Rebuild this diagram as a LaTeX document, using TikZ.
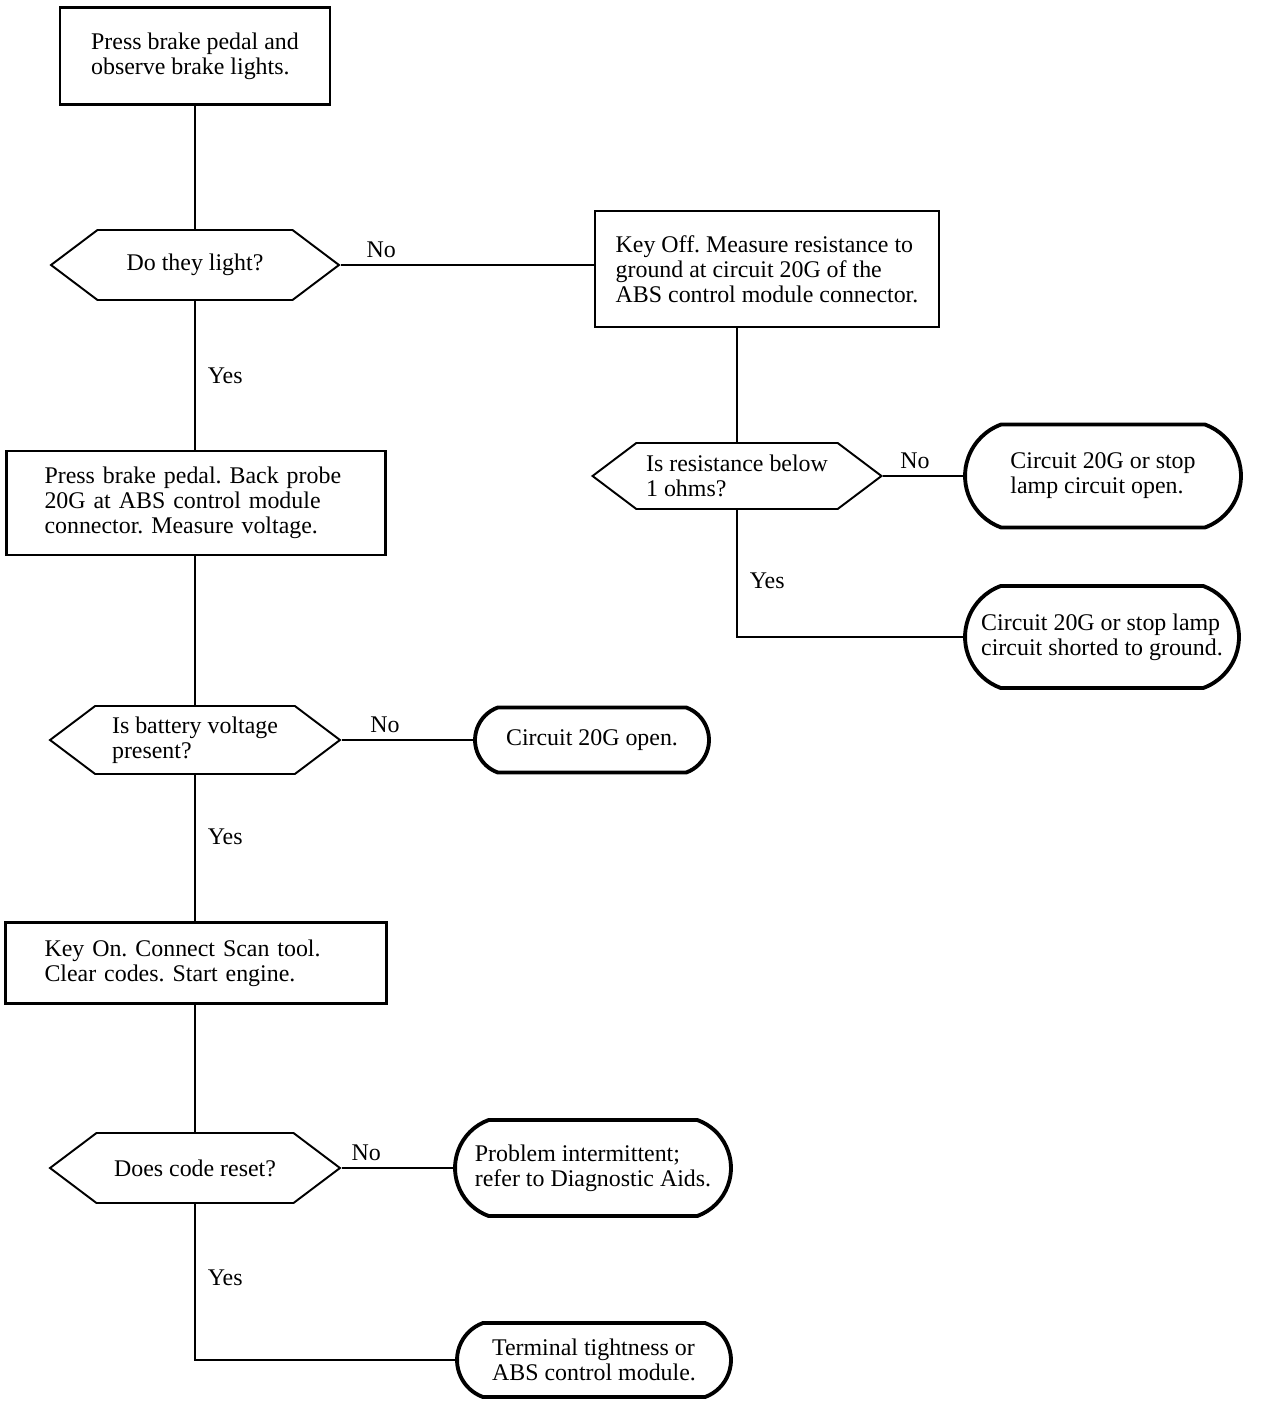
\documentclass[tikz,border=0pt]{standalone}
\usepackage{fontspec}
\setmainfont{Liberation Serif}
\usetikzlibrary{shapes.symbols,shapes.misc}
\frenchspacing

\begin{document}
\begin{tikzpicture}[x=0.02cm,y=-0.02cm,font=\fontsize{13.6}{14.2}\selectfont,
	stepbox/.style={draw,line width=1.2pt,align=left,inner sep=0pt},
	query/.style={draw,line width=1.1pt,signal,signal to=west and east,signal pointer angle=74,align=left,inner sep=0pt},
	stopbox/.style={draw,line width=2.2pt,rounded rectangle,rounded rectangle arc length=140,align=left,inner sep=0pt},
	wire/.style={line width=1.1pt},
	yes/.style={right,xshift=1.2mm}]
	\useasboundingbox (0,0) rectangle (1264,1406);

	% left column
	\node[stepbox,minimum width=54mm,minimum height=19.4mm] (press) at (195,56) {Press brake pedal and\\observe brake lights.};
	\node[query,minimum width=57.6mm,minimum height=14mm] (light) at (195,265) {Do they light?};
	\node[stepbox,text width=60.6mm,inner xsep=7.6mm,minimum height=20.8mm] (probe) at (196,503) {Press brake pedal. Back probe\\20G at ABS control module\\connector. Measure voltage.};
	\node[query,minimum width=58mm,minimum height=13.6mm] (battery) at (195,740) {Is battery voltage\\present?};
	\node[stepbox,text width=60.6mm,inner xsep=7.8mm,minimum height=16.2mm] (scan) at (196,963) {Key On. Connect Scan tool.\\Clear codes. Start engine.};
	\node[query,minimum width=58mm,minimum height=14mm] (reset) at (195,1168) {Does code reset?};

	% right side
	\node[stepbox,minimum width=68.8mm,minimum height=23.2mm] (keyoff) at (767,269) {Key Off. Measure resistance to\\ground at circuit 20G of the\\ABS control module connector.};
	\node[query,minimum width=57.8mm,minimum height=13.2mm] (ohms) at (737,476) {Is resistance below\\1 ohms?};
	\node[stopbox,minimum width=55.2mm,minimum height=20.6mm] (lampopen) at (1103,476) {Circuit 20G or stop\\lamp circuit open.};
	\node[stopbox,minimum width=54.8mm,minimum height=20.4mm] (shorted) at (1102,637) {Circuit 20G or stop lamp\\circuit shorted to ground.};
	\node[stopbox,minimum width=46.8mm,minimum height=13mm] (open) at (592,740) {Circuit 20G open.};
	\node[stopbox,minimum width=55.2mm,minimum height=19.2mm] (intermit) at (593,1168) {Problem intermittent;\\refer to Diagnostic Aids.};
	\node[stopbox,minimum width=54.8mm,minimum height=14.8mm] (tight) at (594,1360) {Terminal tightness or\\ABS control module.};

	% connectors
	\draw[wire] (press) -- (light);
	\draw[wire] (light) -- node[yes,midway]{Yes} (light |- probe.north);
	\draw[wire] (probe.south -| battery.north) -- (battery);
	\draw[wire] (battery) -- node[yes,pos=0.42]{Yes} (battery |- scan.north);
	\draw[wire] (scan.south -| reset.north) -- (reset);
	\draw[wire] (reset) |- node[yes,pos=0.235]{Yes} (tight.west);
	\draw[wire] (light.east) -- node[above,pos=0.16]{No} (light.east -| keyoff.west);
	\draw[wire] (keyoff.south -| ohms.north) -- (ohms.north);
	\draw[wire] (ohms.east) -- node[above,pos=0.4]{No} (lampopen.west);
	\draw[wire] (ohms.south) |- node[yes,pos=0.28]{Yes} (shorted.west);
	\draw[wire] (battery.east) -- node[above,pos=0.33]{No} (open.west);
	\draw[wire] (reset.east) -- node[above,pos=0.22]{No} (intermit.west);
\end{tikzpicture}
\end{document}
